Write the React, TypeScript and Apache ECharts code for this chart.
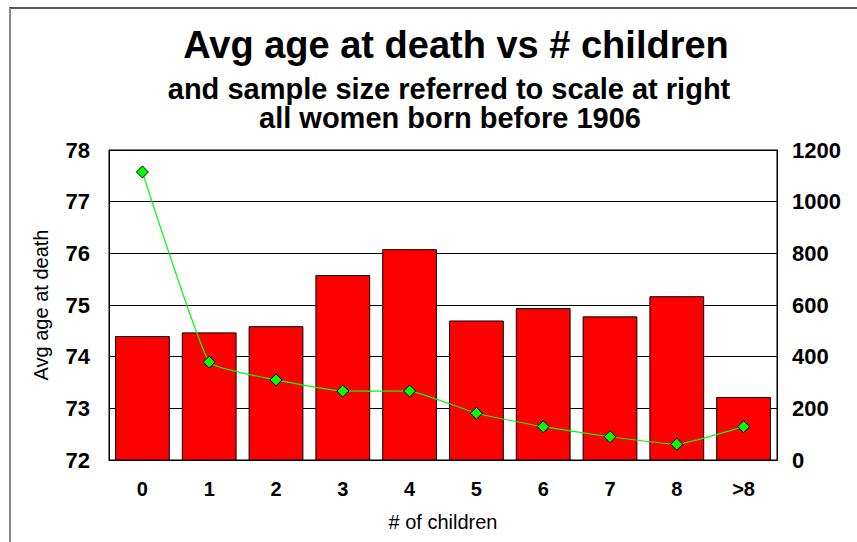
import React, { useEffect, useRef } from "react";
import * as echarts from "echarts";

const categories = ["0", "1", "2", "3", "4", "5", "6", "7", "8", ">8"];
const avgAgeAtDeath = [74.4, 74.47, 74.59, 75.58, 76.08, 74.7, 74.94, 74.78, 75.17, 73.22];
const sampleSize = [1115, 379, 310, 267, 267, 181, 129, 90, 61, 129];
const leftTicks = { min: 72, max: 78, interval: 1 };
const rightTicks = { min: 0, max: 1200, interval: 200 };

const titleText = "Avg age at death vs # children";
const subtitle1 = "and sample size referred to scale at right";
const subtitle2 = "all women born before 1906";
const yAxisName = "Avg age at death";
const xAxisName = "# of children";

const FONT = "'Liberation Sans', Arial, sans-serif";

export default function App() {
  const ref = useRef<HTMLDivElement>(null);
  useEffect(() => {
    if (!ref.current) return;
    const chart = echarts.init(ref.current, null, { renderer: "svg" });
    chart.setOption({
      animation: false,
      backgroundColor: "#fff",
      title: [
        {
          text: titleText,
          left: 456,
          top: 26,
          textAlign: "center",
          padding: 0,
          textStyle: { fontFamily: FONT, fontSize: 38, fontWeight: "bold", color: "#000" },
        },
        {
          text: subtitle1,
          left: 449,
          top: 74,
          textAlign: "center",
          padding: 0,
          textStyle: { fontFamily: FONT, fontSize: 29, fontWeight: "bold", color: "#000" },
        },
        {
          text: subtitle2,
          left: 450,
          top: 103,
          textAlign: "center",
          padding: 0,
          textStyle: { fontFamily: FONT, fontSize: 29, fontWeight: "bold", color: "#000" },
        },
      ],
      graphic: [
        { type: "line", shape: { x1: 9, y1: 8, x2: 857, y2: 8 }, style: { stroke: "#555", lineWidth: 2 } },
        { type: "line", shape: { x1: 10, y1: 8, x2: 10, y2: 542 }, style: { stroke: "#888", lineWidth: 2 } },
      ],
      grid: {
        left: 109,
        right: 80,
        top: 150,
        bottom: 82,
        show: true,
        borderColor: "#000",
        borderWidth: 1,
        backgroundColor: "#fff",
      },
      xAxis: {
        type: "category",
        data: categories,
        name: xAxisName,
        nameLocation: "middle",
        nameGap: 52,
        nameTextStyle: { fontFamily: FONT, fontSize: 20, color: "#000" },
        axisLine: { show: true, lineStyle: { color: "#000", width: 1 } },
        axisTick: { show: false },
        axisLabel: { fontFamily: FONT, fontSize: 20, fontWeight: "bold", color: "#000", margin: 19 },
      },
      yAxis: [
        {
          type: "value",
          min: leftTicks.min,
          max: leftTicks.max,
          interval: leftTicks.interval,
          name: yAxisName,
          nameLocation: "middle",
          nameGap: 58,
          nameTextStyle: { fontFamily: FONT, fontSize: 20, color: "#000" },
          axisLine: { show: true, lineStyle: { color: "#000", width: 1 } },
          axisTick: { show: false },
          axisLabel: { fontFamily: FONT, fontSize: 22, fontWeight: "bold", color: "#000", margin: 19 },
          splitLine: { show: true, lineStyle: { color: "#000", width: 1 } },
        },
        {
          type: "value",
          min: rightTicks.min,
          max: rightTicks.max,
          interval: rightTicks.interval,
          position: "right",
          axisLine: { show: true, lineStyle: { color: "#000", width: 1 } },
          axisTick: { show: false },
          axisLabel: {
            fontFamily: FONT,
            fontSize: 22,
            fontWeight: "bold",
            color: "#000",
            margin: 15,
            formatter: (v: number) => String(v),
          },
          splitLine: { show: false },
        },
      ],
      series: [
        {
          type: "bar",
          data: avgAgeAtDeath,
          yAxisIndex: 0,
          barCategoryGap: "18%",
          itemStyle: {
            color: "#ff0000",
            borderColor: "#000",
            borderWidth: 1,
          },
        },
        {
          type: "line",
          data: sampleSize,
          yAxisIndex: 1,
          smooth: 0.12,
          symbol: "diamond",
          symbolSize: 12,
          lineStyle: { color: "#00ff00", width: 1.2 },
          itemStyle: { color: "#00ff00", borderColor: "#000", borderWidth: 1 },
          z: 3,
        },
      ],
    });
    return () => chart.dispose();
  }, []);
  return <div ref={ref} style={{ width: 857, height: 542, position: "absolute", left: 0, top: 0 }} />;
}
